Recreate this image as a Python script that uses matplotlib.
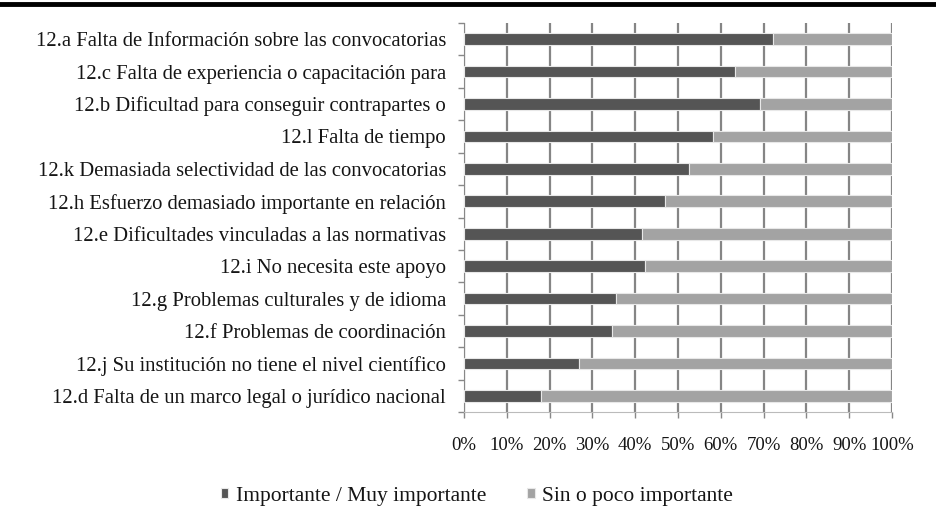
import matplotlib
matplotlib.use('Agg')
import matplotlib.pyplot as plt
from matplotlib.lines import Line2D
from matplotlib.ticker import FuncFormatter

# Survey items, top to bottom
labels = [
    "12.a Falta de Información sobre las convocatorias",
    "12.c Falta de experiencia o capacitación para",
    "12.b Dificultad para conseguir contrapartes o",
    "12.l Falta de tiempo",
    "12.k Demasiada selectividad de las convocatorias",
    "12.h Esfuerzo demasiado importante en relación",
    "12.e Dificultades vinculadas a las normativas",
    "12.i No necesita este apoyo",
    "12.g Problemas culturales y de idioma",
    "12.f Problemas de coordinación",
    "12.j Su institución no tiene el nivel científico",
    "12.d Falta de un marco legal o jurídico nacional",
]
# share (%) answering important / very important
importante = [72.3, 63.4, 69.2, 58.1, 52.6, 47.0, 41.7, 42.2, 35.5, 34.6, 26.8, 18.1]
sin_importancia = [100 - v for v in importante]

series_names = ["Importante / Muy importante", "Sin o poco importante"]
dark = "#555555"
light = "#a3a3a3"
text_col = "#151515"

plt.rcParams['font.family'] = ['Liberation Serif', 'DejaVu Serif']

fig = plt.figure(figsize=(9.37, 5.26), dpi=100)
ax = fig.add_axes([464 / 937, 1 - 412 / 526, 428 / 937, 389 / 526])

ypos = list(range(len(labels)))
ax.barh(ypos, importante, height=0.36, color=dark, edgecolor="#e8e8e8",
        linewidth=0.8, label=series_names[0], zorder=3)
ax.barh(ypos, sin_importancia, left=importante, height=0.36, color=light,
        edgecolor="#e8e8e8", linewidth=0.8, label=series_names[1], zorder=3)

ax.set_xlim(0, 100)
ax.set_ylim(len(labels) - 0.5, -0.5)
ax.set_xticks(range(0, 101, 10))
ax.xaxis.set_major_formatter(FuncFormatter(lambda v, p: f"{int(v)}%"))
ax.set_yticks(ypos)
ax.set_yticklabels(labels, fontsize=14.9, color=text_col)

# y ticks sit between categories
ax.set_yticks([i - 0.5 for i in range(len(labels) + 1)], minor=True)
ax.tick_params(axis='y', which='major', length=0, pad=13)
ax.tick_params(axis='y', which='minor', length=4, color="#888888", width=1)
ax.tick_params(axis='x', length=4, color="#888888", width=1, pad=14,
               labelsize=13.5, labelcolor=text_col)

ax.grid(axis='x', color="#858585", linewidth=1.6, zorder=0)
for side in ['top', 'right']:
    ax.spines[side].set_visible(False)
ax.spines['left'].set_color("#888888")
ax.spines['bottom'].set_color("#bbbbbb")

fig.legend(loc='center', bbox_to_anchor=(477 / 937, 1 - 496 / 526), ncol=2,
           frameon=False, fontsize=15.5, handlelength=0.35, handleheight=0.35,
           handletextpad=0.35, columnspacing=1.9, labelcolor=text_col)

# heavy rule across the top of the page
fig.add_artist(Line2D([0, 1], [1 - 4 / 526, 1 - 4 / 526], color="black",
                      linewidth=3.5, transform=fig.transFigure))

fig.savefig("out.png", dpi=100, facecolor="white")
